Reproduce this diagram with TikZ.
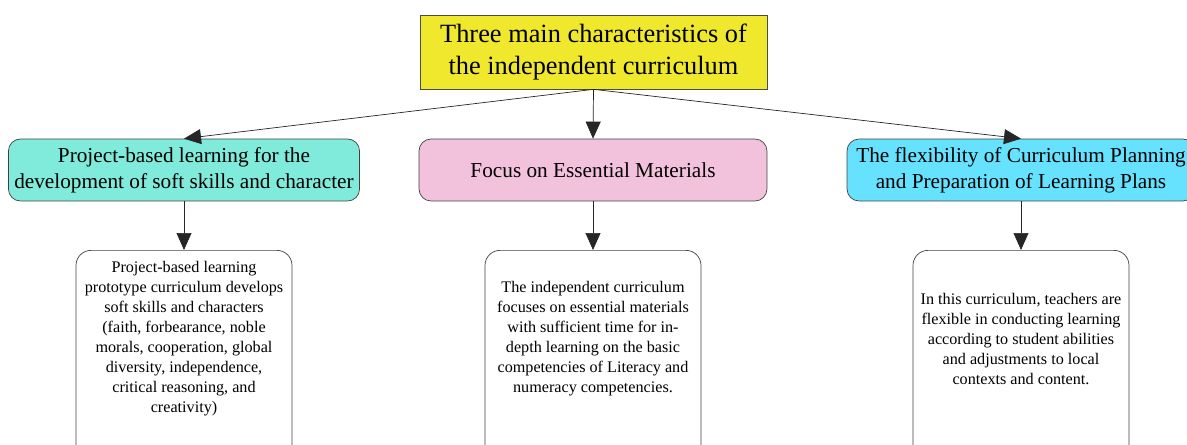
\documentclass[tikz,border=0pt]{standalone}
\usepackage{fontspec}
\setmainfont{Liberation Serif}
\usetikzlibrary{arrows.meta}

\definecolor{headyellow}{HTML}{EFE82C}
\definecolor{branchteal}{HTML}{80EADB}
\definecolor{branchpink}{HTML}{F2C2DD}
\definecolor{branchcyan}{HTML}{66E2FF}

\tikzstyle{head} = [rectangle, draw=black!70, fill=headyellow, align=center, minimum width=6.94cm, minimum height=1.48cm, font=\fontsize{15}{17.8}\selectfont]
\tikzstyle{branch} = [rectangle, draw=black!75, align=center, rounded corners=0.24cm, minimum width=6.96cm, minimum height=1.24cm, font=\fontsize{12.1}{14.8}\selectfont]
\tikzstyle{leaf} = [rectangle, draw=black!75, rounded corners=0.3cm, minimum width=4.32cm, minimum height=4.2cm, anchor=north]
\tikzstyle{leaftext} = [align=center, font=\fontsize{9.2}{11.4}\selectfont]
\tikzstyle{link} = [draw=black!85, -{Triangle[length=0.34cm, width=0.3cm]}]

\begin{document}
\begin{tikzpicture}[x=0.02cm, y=0.02cm]

    \useasboundingbox (0,0) rectangle (1187,444);

    %  nodes
    \node[head] (H) at (593.5,392) {Three main characteristics of\\the independent curriculum};

    %-------------------------------------------------------------
    \node[branch, fill=branchteal] (B1) at (184,274) {Project-based learning for the\\development of soft skills and character};
    \node[branch, fill=branchpink] (B2) at (593,274) {Focus on Essential Materials};
    \node[branch, fill=branchcyan] (B3) at (1021,274) {The flexibility of Curriculum Planning\\and Preparation of Learning Plans};

    %-------------------------------------------------------------
    \node[leaf] (L1) at (184,194) {};
    \node[leaf] (L2) at (593,194) {};
    \node[leaf] (L3) at (1021,194) {};

    \node[leaftext] (T1) at (184,105) {Project-based learning\\prototype curriculum develops\\soft skills and characters\\(faith, forbearance, noble\\morals, cooperation, global\\diversity, independence,\\critical reasoning, and\\creativity)};
    \node[leaftext] (T2) at (593,105) {The independent curriculum\\focuses on essential materials\\with sufficient time for in-\\depth learning on the basic\\competencies of Literacy and\\numeracy competencies.};
    \node[leaftext] (T3) at (1021,105) {In this curriculum, teachers are\\flexible in conducting learning\\according to student abilities\\and adjustments to local\\contexts and content.};

    %-------------------------------------------------------------
    \draw[link] (H.south) -- (B1.north);
    \draw[link] (H.south) -- (B2.north);
    \draw[link] (H.south) -- (B3.north);
    \draw[link] (B1.south) -- (L1.north);
    \draw[link] (B2.south) -- (L2.north);
    \draw[link] (B3.south) -- (L3.north);

\end{tikzpicture}
\end{document}
